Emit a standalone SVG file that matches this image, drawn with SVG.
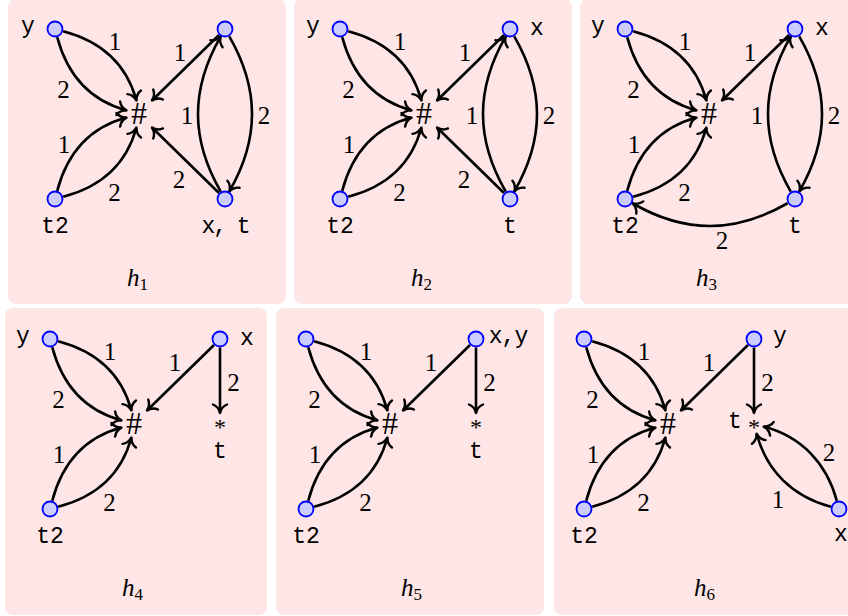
<svg xmlns="http://www.w3.org/2000/svg" width="848" height="616" viewBox="0 0 848 616">
<defs>
<style>
.bg{fill:#ffe6e6;}
.e{fill:none;stroke:#000;stroke-width:2.6;marker-end:url(#arr);}
.nd{fill:#ccccff;stroke:#0000ff;stroke-width:1.8;}
.lbl{font-family:"Liberation Mono","DejaVu Sans Mono",monospace;font-size:23px;fill:#000;text-anchor:middle;}
.num{font-family:"Liberation Serif","DejaVu Serif",serif;font-size:25px;fill:#000;text-anchor:middle;}
.hash{font-family:"Liberation Serif","DejaVu Serif",serif;font-size:32px;fill:#000;text-anchor:middle;}
.star{font-family:"Liberation Serif","DejaVu Serif",serif;font-size:24px;fill:#000;text-anchor:middle;}
.cap{font-family:"Liberation Serif","DejaVu Serif",serif;font-size:25px;font-style:italic;fill:#000;}
.sub{font-style:normal;font-size:17px;}
</style>
<marker id="arr" markerUnits="userSpaceOnUse" orient="auto" refX="0" refY="0" markerWidth="16" markerHeight="16" viewBox="-12 -8 14 16" overflow="visible">
<path d="M-8.5,-7 C-7,-3.2 -3.2,-0.8 0,0 C-3.2,0.8 -7,3.2 -8.5,7" fill="none" stroke="#000" stroke-width="2.4" stroke-linecap="round" stroke-linejoin="round"/>
</marker>
</defs>
<rect width="848" height="616" fill="#ffffff"/>
<g id="panels">
<rect class="bg" x="8" y="-1" width="278" height="305" rx="8"/>
<rect class="bg" x="294" y="-1" width="278" height="305" rx="8"/>
<rect class="bg" x="580" y="-1" width="280" height="305" rx="8"/>
<rect class="bg" x="5" y="308" width="262" height="307" rx="8"/>
<rect class="bg" x="276" y="308" width="268" height="307" rx="8"/>
<rect class="bg" x="554" y="308" width="300" height="307" rx="8"/>
</g>

<!-- h1 -->
<g id="h1" transform="translate(0,0)">
<g id="h1-edges">
<path class="e" d="M63.2,31.2 C100.7,41.1 126.3,62.8 136.4,100.5"/>
<path class="e" d="M57.2,37.2 C67.3,74.9 88.8,100.3 126.5,110.4"/>
<path class="e" d="M57.2,190.8 C67.3,153.1 88.8,127.7 126.5,117.6"/>
<path class="e" d="M63.2,196.8 C100.7,186.9 126.3,165.2 136.4,127.5"/>
<path class="e" d="M219,35 L152,100.5"/>
<path class="e" d="M219,193 L152,127.5"/>
<path class="e" d="M220.75,191.6 C190.4,139 190.4,89 220.75,36.4"/>
<path class="e" d="M229.25,36.4 C259.6,89 259.6,139 229.25,191.6"/>
<text class="num" x="115" y="49.5">1</text>
<text class="num" x="63.5" y="97.5">2</text>
<text class="num" x="64" y="152.5">1</text>
<text class="num" x="114.5" y="201">2</text>
<text class="num" x="180" y="61">1</text>
<text class="num" x="187" y="124">1</text>
<text class="num" x="264" y="124">2</text>
<text class="num" x="179" y="188">2</text>
</g>
<g id="h1-hash"><text class="hash" x="139" y="124">#</text></g>
<g id="h1-y"><circle class="nd" cx="55" cy="29" r="7.5"/><text class="lbl" x="28" y="32.7">y</text></g>
<g id="h1-x"><circle class="nd" cx="225" cy="29" r="7.5"/></g>
<g id="h1-t2"><circle class="nd" cx="55" cy="199" r="7.5"/><text class="lbl" x="55" y="232.5">t2</text></g>
<g id="h1-xt"><circle class="nd" cx="225" cy="199" r="7.5"/><text class="lbl" x="225" y="232.5" letter-spacing="-2">x, t</text></g>
<text class="cap" x="127" y="286">h<tspan class="sub" dy="4">1</tspan></text>
</g>

<!-- h2 -->
<g id="h2" transform="translate(285,0)">
<g id="h2-edges">
<path class="e" d="M63.2,31.2 C100.7,41.1 126.3,62.8 136.4,100.5"/>
<path class="e" d="M57.2,37.2 C67.3,74.9 88.8,100.3 126.5,110.4"/>
<path class="e" d="M57.2,190.8 C67.3,153.1 88.8,127.7 126.5,117.6"/>
<path class="e" d="M63.2,196.8 C100.7,186.9 126.3,165.2 136.4,127.5"/>
<path class="e" d="M219,35 L152,100.5"/>
<path class="e" d="M219,193 L152,127.5"/>
<path class="e" d="M220.75,191.6 C190.4,139 190.4,89 220.75,36.4"/>
<path class="e" d="M229.25,36.4 C259.6,89 259.6,139 229.25,191.6"/>
<text class="num" x="115" y="49.5">1</text>
<text class="num" x="63.5" y="97.5">2</text>
<text class="num" x="64" y="152.5">1</text>
<text class="num" x="114.5" y="201">2</text>
<text class="num" x="180" y="61">1</text>
<text class="num" x="187" y="124">1</text>
<text class="num" x="264" y="124">2</text>
<text class="num" x="179" y="188">2</text>
</g>
<g id="h2-hash"><text class="hash" x="139" y="124">#</text></g>
<g id="h2-y"><circle class="nd" cx="55" cy="29" r="7.5"/><text class="lbl" x="28" y="32.7">y</text></g>
<g id="h2-x"><circle class="nd" cx="225" cy="29" r="7.5"/><text class="lbl" x="252" y="35">x</text></g>
<g id="h2-t2"><circle class="nd" cx="55" cy="199" r="7.5"/><text class="lbl" x="55" y="232.5">t2</text></g>
<g id="h2-t"><circle class="nd" cx="225" cy="199" r="7.5"/><text class="lbl" x="225" y="232.5">t</text></g>
<text class="cap" x="126" y="286">h<tspan class="sub" dy="4">2</tspan></text>
</g>

<!-- h3 -->
<g id="h3" transform="translate(570,0)">
<g id="h3-edges">
<path class="e" d="M63.2,31.2 C100.7,41.1 126.3,62.8 136.4,100.5"/>
<path class="e" d="M57.2,37.2 C67.3,74.9 88.8,100.3 126.5,110.4"/>
<path class="e" d="M57.2,190.8 C67.3,153.1 88.8,127.7 126.5,117.6"/>
<path class="e" d="M63.2,196.8 C100.7,186.9 126.3,165.2 136.4,127.5"/>
<path class="e" d="M219,35 L152,100.5"/>
<path class="e" d="M220.75,191.6 C190.4,139 190.4,89 220.75,36.4"/>
<path class="e" d="M229.25,36.4 C259.6,89 259.6,139 229.25,191.6"/>
<path class="e" d="M217.6,203.25 C165,233.6 115,233.6 62.4,203.25"/>
<text class="num" x="115" y="49.5">1</text>
<text class="num" x="63.5" y="97.5">2</text>
<text class="num" x="64" y="152.5">1</text>
<text class="num" x="114.5" y="201">2</text>
<text class="num" x="180" y="61">1</text>
<text class="num" x="187" y="124">1</text>
<text class="num" x="264" y="124">2</text>
<text class="num" x="152" y="249">2</text>
</g>
<g id="h3-hash"><text class="hash" x="139" y="124">#</text></g>
<g id="h3-y"><circle class="nd" cx="55" cy="29" r="7.5"/><text class="lbl" x="28" y="32.7">y</text></g>
<g id="h3-x"><circle class="nd" cx="225" cy="29" r="7.5"/><text class="lbl" x="252" y="35">x</text></g>
<g id="h3-t2"><circle class="nd" cx="55" cy="199" r="7.5"/><text class="lbl" x="55" y="232.5">t2</text></g>
<g id="h3-t"><circle class="nd" cx="225" cy="199" r="7.5"/><text class="lbl" x="225" y="232.5">t</text></g>
<text class="cap" x="126" y="286">h<tspan class="sub" dy="4">3</tspan></text>
</g>

<!-- h4 -->
<g id="h4" transform="translate(-5,310)">
<g id="h4-edges">
<path class="e" d="M63.2,31.2 C100.7,41.1 126.3,62.8 136.4,100.5"/>
<path class="e" d="M57.2,37.2 C67.3,74.9 88.8,100.3 126.5,110.4"/>
<path class="e" d="M57.2,190.8 C67.3,153.1 88.8,127.7 126.5,117.6"/>
<path class="e" d="M63.2,196.8 C100.7,186.9 126.3,165.2 136.4,127.5"/>
<path class="e" d="M219,35 L152,100.5"/>
<path class="e" d="M225,37.5 L225,103"/>
<text class="num" x="115" y="49.5">1</text>
<text class="num" x="63.5" y="97.5">2</text>
<text class="num" x="64" y="152.5">1</text>
<text class="num" x="114.5" y="201">2</text>
<text class="num" x="180" y="61">1</text>
<text class="num" x="238.5" y="81">2</text>
</g>
<g id="h4-hash"><text class="hash" x="139" y="124">#</text></g>
<g id="h4-star"><text class="star" x="225" y="124.5">*</text><text class="lbl" x="225" y="148">t</text></g>
<g id="h4-y"><circle class="nd" cx="55" cy="29" r="7.5"/><text class="lbl" x="28" y="32.7">y</text></g>
<g id="h4-x"><circle class="nd" cx="225" cy="29" r="7.5"/><text class="lbl" x="252" y="35">x</text></g>
<g id="h4-t2"><circle class="nd" cx="55" cy="199" r="7.5"/><text class="lbl" x="55" y="232.5">t2</text></g>
<text class="cap" x="127" y="286">h<tspan class="sub" dy="4">4</tspan></text>
</g>

<!-- h5 -->
<g id="h5" transform="translate(251,310)">
<g id="h5-edges">
<path class="e" d="M63.2,31.2 C100.7,41.1 126.3,62.8 136.4,100.5"/>
<path class="e" d="M57.2,37.2 C67.3,74.9 88.8,100.3 126.5,110.4"/>
<path class="e" d="M57.2,190.8 C67.3,153.1 88.8,127.7 126.5,117.6"/>
<path class="e" d="M63.2,196.8 C100.7,186.9 126.3,165.2 136.4,127.5"/>
<path class="e" d="M219,35 L152,100.5"/>
<path class="e" d="M225,37.5 L225,103"/>
<text class="num" x="115" y="49.5">1</text>
<text class="num" x="63.5" y="97.5">2</text>
<text class="num" x="64" y="152.5">1</text>
<text class="num" x="114.5" y="201">2</text>
<text class="num" x="180" y="61">1</text>
<text class="num" x="238.5" y="81">2</text>
</g>
<g id="h5-hash"><text class="hash" x="139" y="124">#</text></g>
<g id="h5-star"><text class="star" x="225" y="124.5">*</text><text class="lbl" x="225" y="148">t</text></g>
<g id="h5-n1"><circle class="nd" cx="55" cy="29" r="7.5"/></g>
<g id="h5-xy"><circle class="nd" cx="225" cy="29" r="7.5"/><text class="lbl" x="257" y="32.7" letter-spacing="-1">x,y</text></g>
<g id="h5-t2"><circle class="nd" cx="55" cy="199" r="7.5"/><text class="lbl" x="55" y="232.5">t2</text></g>
<text class="cap" x="150" y="286">h<tspan class="sub" dy="4">5</tspan></text>
</g>

<!-- h6 -->
<g id="h6" transform="translate(529,310)">
<g id="h6-edges">
<path class="e" d="M63.2,31.2 C100.7,41.1 126.3,62.8 136.4,100.5"/>
<path class="e" d="M57.2,37.2 C67.3,74.9 88.8,100.3 126.5,110.4"/>
<path class="e" d="M57.2,190.8 C67.3,153.1 88.8,127.7 126.5,117.6"/>
<path class="e" d="M63.2,196.8 C100.7,186.9 126.3,165.2 136.4,127.5"/>
<path class="e" d="M219,35 L152,100.5"/>
<path class="e" d="M225,37.5 L225,103"/>
<path class="e" d="M307.8,190.8 C297.7,153.1 272.4,126.7 234.7,116.6"/>
<path class="e" d="M301.8,196.8 C264.1,186.7 237.7,161.4 227.6,123.7"/>
<text class="num" x="115" y="49.5">1</text>
<text class="num" x="63.5" y="97.5">2</text>
<text class="num" x="64" y="152.5">1</text>
<text class="num" x="114.5" y="201">2</text>
<text class="num" x="180" y="61">1</text>
<text class="num" x="238.5" y="81">2</text>
<text class="num" x="300" y="151">2</text>
<text class="num" x="249" y="198">1</text>
</g>
<g id="h6-hash"><text class="hash" x="139" y="124">#</text></g>
<g id="h6-star"><text class="star" x="225" y="124.5">*</text><text class="lbl" x="206" y="118">t</text></g>
<g id="h6-n1"><circle class="nd" cx="55" cy="29" r="7.5"/></g>
<g id="h6-y"><circle class="nd" cx="225" cy="29" r="7.5"/><text class="lbl" x="251" y="32.7">y</text></g>
<g id="h6-t2"><circle class="nd" cx="55" cy="199" r="7.5"/><text class="lbl" x="55" y="232.5">t2</text></g>
<g id="h6-x"><circle class="nd" cx="310" cy="199" r="7.5"/><text class="lbl" x="312" y="231">x</text></g>
<text class="cap" x="165" y="286">h<tspan class="sub" dy="4">6</tspan></text>
</g>
</svg>
